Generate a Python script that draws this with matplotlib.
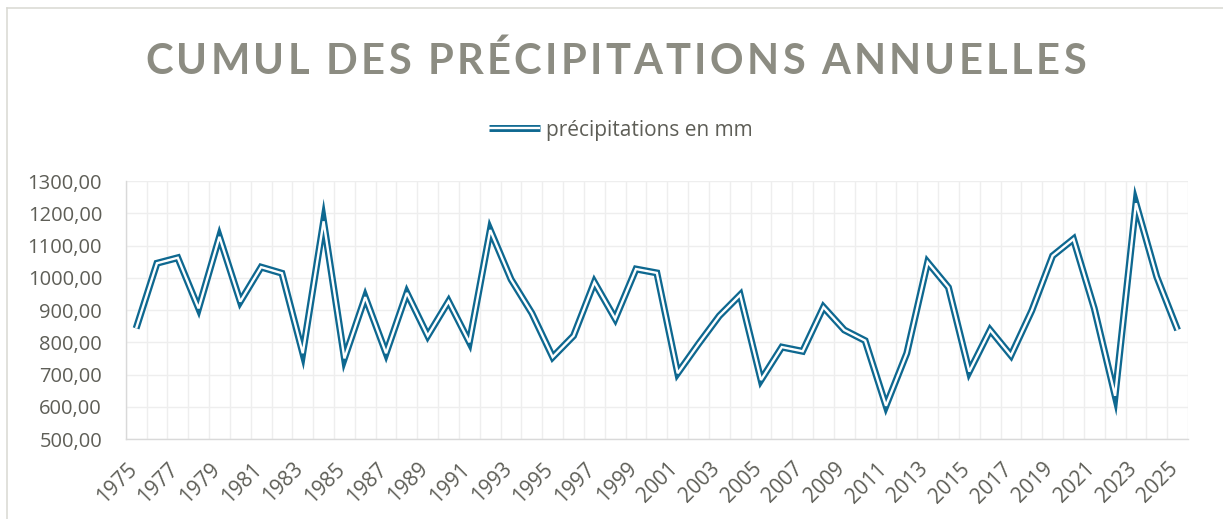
import matplotlib
matplotlib.use("Agg")
import matplotlib.pyplot as plt
from matplotlib.lines import Line2D
from matplotlib.ticker import FixedLocator, FuncFormatter
from matplotlib.transforms import ScaledTranslation
import numpy as np

# ---- data ----
years = list(range(1975, 2026))
precip_mm = [843, 1045, 1062, 905, 1127, 926, 1033, 1014, 766, 1175,
             750, 940, 766, 953, 820, 927, 800, 1148, 995, 890,
             754, 820, 986, 873, 1027, 1015, 704, 795, 882, 947,
             683, 785, 772, 909, 838, 805, 603, 766, 1048, 970,
             709, 838, 759, 898, 1068, 1120, 905, 634, 1231, 1003, 838]
y_ticks = [500, 600, 700, 800, 900, 1000, 1100, 1200, 1300]
title = "CUMUL DES PRÉCIPITATIONS ANNUELLES"
series_name = "précipitations en mm"

W, H, DPI = 1223, 519, 100
LINE = "#0E6890"
TXT = "#5E5E57"
TITLE_C = "#8C8C82"

plt.rcParams['font.family'] = ['Open Sans', 'DejaVu Sans']
fig = plt.figure(figsize=(W / DPI, H / DPI), dpi=DPI)
fig.patch.set_facecolor("white")

# plot area (pixel coords from the reference)
L, R, T, B = 125.7, 1188.0, 181.0, 439.0
ax = fig.add_axes([L / W, 1 - B / H, (R - L) / W, (B - T) / H])

x = np.arange(len(years))
ax.plot(x, precip_mm, color=LINE, lw=5.0, solid_joinstyle='miter',
        solid_capstyle='butt', zorder=3)
ax.plot(x, precip_mm, color="white", lw=1.7, solid_joinstyle='miter',
        solid_capstyle='butt', zorder=4)

ax.set_xlim(-0.5, len(years) - 0.5)
ax.set_ylim(y_ticks[0], y_ticks[-1])
ax.set_yticks(y_ticks)
ax.yaxis.set_major_formatter(FuncFormatter(lambda v, p: f"{v:.2f}".replace(".", ",")))

lab_idx = list(range(0, len(years), 2))
ax.set_xticks(lab_idx)
ax.set_xticklabels([str(years[i]) for i in lab_idx], rotation=45,
                   ha='right', va='top', rotation_mode='default')
ax.xaxis.set_minor_locator(FixedLocator(np.arange(-0.5, len(years), 1.0)))

ax.tick_params(axis='both', which='both', length=0, labelcolor=TXT)
ax.tick_params(axis='y', pad=17, labelsize=14.5)
ax.tick_params(axis='x', pad=14, labelsize=15)
shift = ScaledTranslation(5 / DPI, 0, fig.dpi_scale_trans)
for lab in ax.get_xticklabels():
    lab.set_transform(lab.get_transform() + shift)

ax.grid(True, axis='y', which='major', color='#EEEEEE', lw=1.0)
ax.grid(True, axis='x', which='minor', color='#EEEEEE', lw=1.0)
ax.grid(False, axis='x', which='major')
ax.set_axisbelow(True)
for s in ['top', 'right']:
    ax.spines[s].set_visible(False)
for s in ['left', 'bottom']:
    ax.spines[s].set_color('#D9D9D9')
    ax.spines[s].set_linewidth(1.0)

# legend
h1 = Line2D([], [], color=LINE, lw=5.0, solid_capstyle='butt')
h2 = Line2D([], [], color="white", lw=1.7, solid_capstyle='butt')
fig.legend([(h1, h2)], [series_name], loc='center',
           bbox_to_anchor=(621 / W, 1 - 130 / H), frameon=False,
           fontsize=15, labelcolor=TXT, handlelength=2.45, handletextpad=0.3)

# chart border (top & left visible in reference)
fig.add_artist(Line2D([6.5 / W, 1.0], [1 - 7.5 / H, 1 - 7.5 / H],
                      transform=fig.transFigure, color='#D9D9D2', lw=1.1))
fig.add_artist(Line2D([6.5 / W, 6.5 / W], [0, 1 - 7.5 / H],
                      transform=fig.transFigure, color='#D9D9D2', lw=1.1))

# letter-spaced title
renderer = fig.canvas.get_renderer()
tprops = dict(fontsize=30, fontweight='bold', family=['Lato', 'DejaVu Sans'])


def text_w(s):
    t = fig.text(0, 0, s, **tprops)
    w = t.get_window_extent(renderer).width
    t.remove()
    return w


base = text_w("HH")
adv = [text_w("H" + c + "H") - base for c in title]
ink0 = text_w(title[0])
inkN = text_w(title[-1])
n = len(title)
target_left, target_right = 145.0, 1086.0
span0 = sum(adv[:n - 1]) + adv[-1] / 2 - adv[0] / 2 + (ink0 + inkN) / 2
sp = (target_right - target_left - span0) / (n - 1)
c0 = target_left + ink0 / 2
pos = c0
y_title = 1 - 58 / H
for i, c in enumerate(title):
    if i > 0:
        pos += adv[i - 1] / 2 + adv[i] / 2 + sp
    if c != " ":
        fig.text(pos / W, y_title, c, ha='center', va='center_baseline',
                 color=TITLE_C, **tprops)

fig.savefig("out.png", dpi=DPI, facecolor="white")
